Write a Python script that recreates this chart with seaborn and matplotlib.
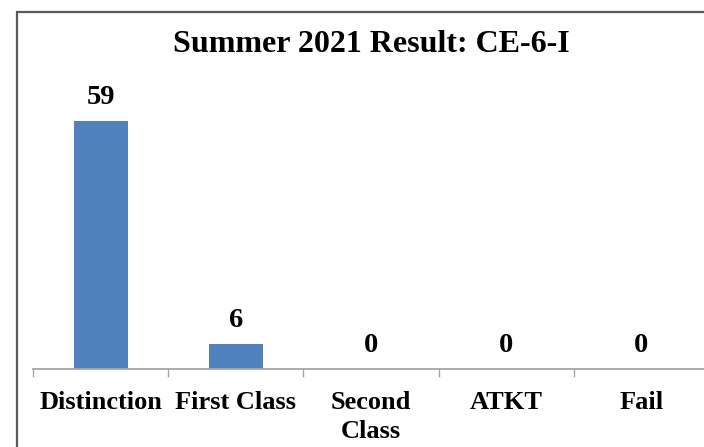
import matplotlib
matplotlib.use("Agg")
import matplotlib.pyplot as plt
import seaborn as sns
import pandas as pd
from matplotlib.patches import Rectangle

categories = ["Distinction", "First Class", "Second\nClass", "ATKT", "Fail"]
values = [59, 6, 0, 0, 0]
title = "Summer 2021 Result: CE-6-I"

sns.set_theme(style="white")
plt.rcParams["font.family"] = ["Liberation Serif", "DejaVu Serif"]
plt.rcParams["text.color"] = "black"
plt.rcParams["xtick.color"] = "black"

W, H = 704, 447
fig = plt.figure(figsize=(W / 100, H / 100), dpi=100)
fig.patch.set_facecolor("white")

# figure frame (only left and top edges visible)
fig.patches.append(Rectangle((17 / W, -0.1), 1.2, 1 - 12 / H + 0.1,
                             transform=fig.transFigure, fill=False,
                             edgecolor="#5a5a5a", linewidth=1.6))

ax = fig.add_axes([33 / W, 78 / H, 676 / W, 291 / H])
df = pd.DataFrame({"cat": categories, "val": values})
sns.barplot(data=df, x="cat", y="val", color="#4F81BD", width=0.4,
            saturation=1, linewidth=0, ax=ax)

ax.set_xlim(-0.5, 4.5)
ax.set_ylim(0, 291 / 4.2)
ax.set_xlabel("")
ax.set_ylabel("")
ax.set_yticks([])
for s in ["top", "right", "left"]:
    ax.spines[s].set_visible(False)
ax.spines["bottom"].set_color("#a6a6a6")
ax.spines["bottom"].set_linewidth(1.3)

ax.set_xticks(range(len(categories)))
ax.set_xticklabels(categories, fontsize=19, fontweight="bold",
                   linespacing=1.3, color="black")
ax.tick_params(axis="x", which="major", length=0, pad=16)
ax.set_xticks([i - 0.5 for i in range(len(categories) + 1)], minor=True)
ax.tick_params(axis="x", which="minor", length=5.5, color="#a6a6a6", width=1,
               direction="out", bottom=True)
for lab in ax.get_xticklabels():
    lab.set_verticalalignment("top")

for i, v in enumerate(values):
    ax.annotate(f"{v}", (i, v), xytext=(0, 8), textcoords="offset points",
                ha="center", va="bottom", fontsize=20.5, fontweight="bold",
                color="black")

fig.text(371 / W, 1 - 45 / H, title, ha="center", va="center",
         fontsize=23, fontweight="bold", color="black")

fig.savefig("out.png", dpi=100, facecolor="white")
